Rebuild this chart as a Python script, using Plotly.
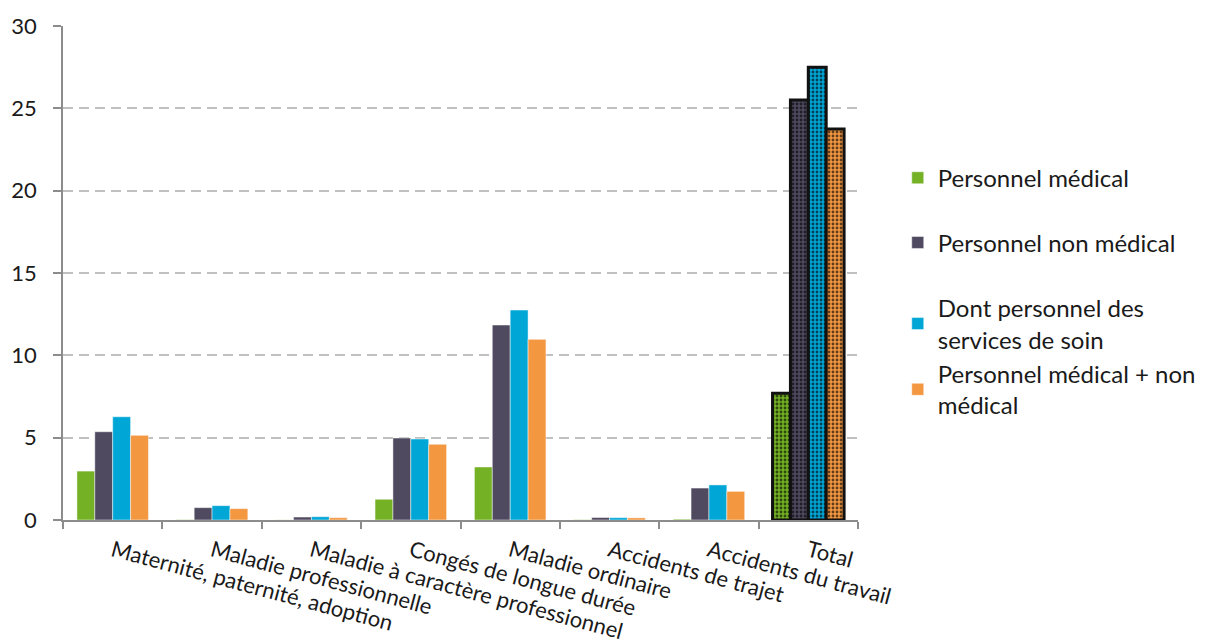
import plotly.graph_objects as go

# Absence categories (x axis)
categories = [
    "Maternité, paternité, adoption",
    "Maladie professionnelle",
    "Maladie à caractère professionnel",
    "Congés de longue durée",
    "Maladie ordinaire",
    "Accidents de trajet",
    "Accidents du travail",
    "Total",
]

# Series values (days of absence per agent)
personnel_medical = [2.97, 0.02, 0.01, 1.26, 3.22, 0.02, 0.05, 7.69]
personnel_non_medical = [5.36, 0.75, 0.18, 4.98, 11.84, 0.15, 1.94, 25.5]
services_de_soin = [6.27, 0.87, 0.20, 4.92, 12.75, 0.14, 2.13, 27.5]
medical_plus_non_medical = [5.14, 0.69, 0.14, 4.60, 10.97, 0.13, 1.74, 23.74]

y_ticks = [0, 5, 10, 15, 20, 25, 30]

series = [
    ("Personnel médical", personnel_medical, "#74B124", "legend"),
    ("Personnel non médical", personnel_non_medical, "#4F4A60", "legend2"),
    ("Dont personnel des<br>services de soin", services_de_soin, "#00A6D6", "legend3"),
    ("Personnel médical + non<br>médical", medical_plus_non_medical, "#F39740", "legend4"),
]

FONT = "Lato"
TEXT = "#1a1a1a"

fig = go.Figure()
for name, vals, color, leg in series:
    is_total = [c == "Total" for c in categories]
    fig.add_trace(go.Bar(
        x=categories,
        y=vals,
        name=name,
        legend=leg,
        showlegend=True,
        marker=dict(
            color=color,
            line=dict(
                color=["#111111" if t else "rgba(255,255,255,0.6)" for t in is_total],
                width=[3 if t else 0.8 for t in is_total],
            ),
            pattern=dict(
                shape=["." if t else "" for t in is_total],
                fgcolor="#000000",
                fgopacity=0.6,
                size=4,
                solidity=0.4,
            ),
        ),
    ))

legend_common = dict(
    x=1.05, xanchor="left", yanchor="middle",
    font=dict(family=FONT, size=24, color=TEXT),
    bgcolor="rgba(0,0,0,0)",
)
fig.update_layout(
    showlegend=True,
    legend=dict(y=0.692, **legend_common),
    legend2=dict(y=0.561, **legend_common),
    legend3=dict(y=0.397, **legend_common),
    legend4=dict(y=0.264, **legend_common),
)

fig.update_layout(
    width=1206,
    height=644,
    autosize=False,
    margin=dict(l=63, r=348, t=26, b=124, autoexpand=False),
    paper_bgcolor="white",
    plot_bgcolor="white",
    barmode="group",
    bargap=0.28,
    bargroupgap=0,
    font=dict(family=FONT, size=22, color=TEXT),
)

fig.update_xaxes(
    type="category",
    automargin=False,
    tickangle=15,
    tickson="boundaries",
    ticks="outside",
    ticklen=7,
    tickcolor="#8c8c8c",
    tickwidth=1.5,
    showline=True,
    linecolor="#8c8c8c",
    linewidth=1.5,
    showgrid=False,
    ticklabelstandoff=8,
    tickfont=dict(family=FONT, size=22, color=TEXT),
)

fig.update_yaxes(
    range=[0, 30],
    automargin=False,
    tickvals=y_ticks,
    ticks="outside",
    ticklen=8,
    tickcolor="#8c8c8c",
    tickwidth=1.5,
    showline=True,
    linecolor="#8c8c8c",
    linewidth=1.5,
    showgrid=True,
    gridcolor="#c0c0c0",
    gridwidth=1.5,
    griddash="10px,6px",
    zeroline=False,
    ticklabelstandoff=12,
    tickfont=dict(family=FONT, size=22, color=TEXT),
)

fig.write_html("out.html", config={"displayModeBar": False})
